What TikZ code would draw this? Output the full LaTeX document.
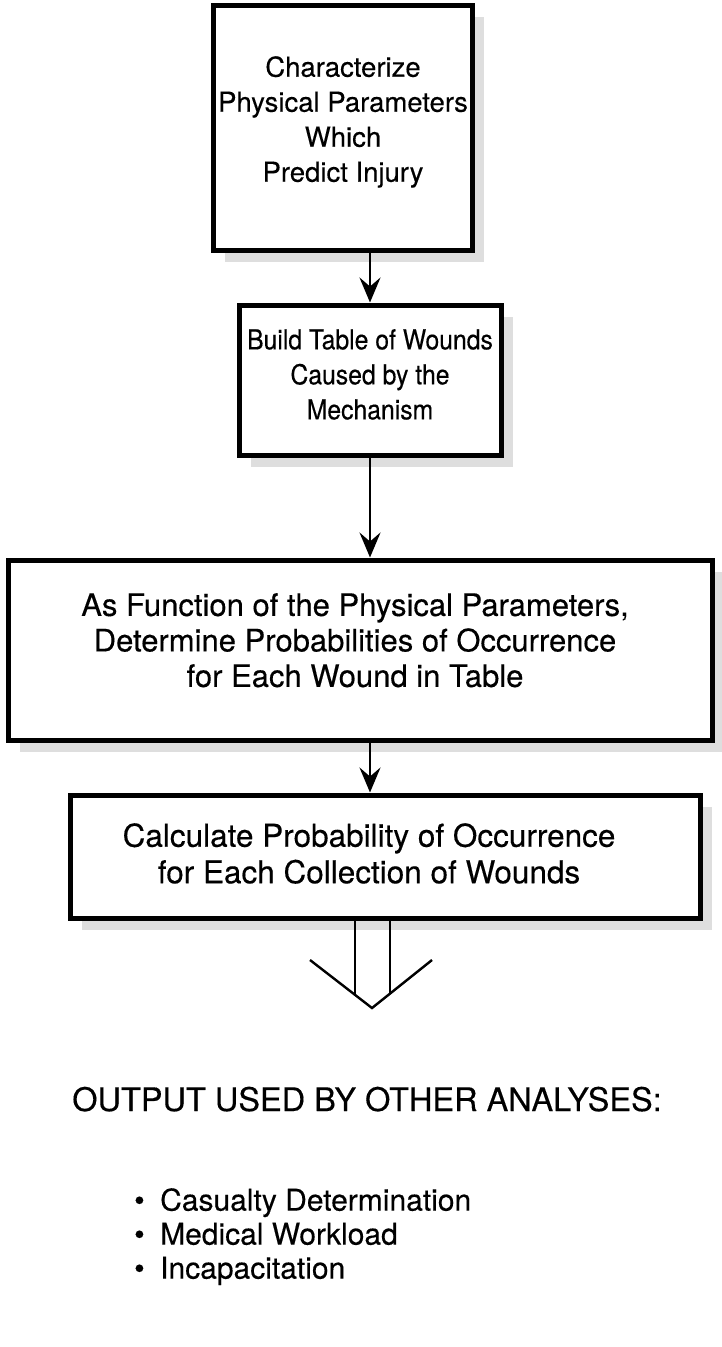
\documentclass[tikz,border=0pt]{standalone}
\usepackage{fontspec}
\setmainfont{TeX Gyre Heros}
\newfontfamily\fA[FakeBold=0.3]{TeX Gyre Heros}
\newfontfamily\fB[FakeBold=0.3,FakeStretch=0.9]{TeX Gyre Heros}
\usetikzlibrary{arrows.meta,shadows}
\begin{document}
\begin{tikzpicture}[x=1pt,y=-1pt,
  box/.style={draw, line width=5pt, fill=white, inner sep=0pt,
    general shadow={shadow xshift=12pt, shadow yshift=-12pt, fill=black!13}},
  txtA/.style={align=center, font=\fA\fontsize{27.5}{35}\selectfont, inner sep=0pt, anchor=north},
  txtA2/.style={align=center, font=\fB\fontsize{27.5}{35}\selectfont, inner sep=0pt, anchor=north},
  txtB/.style={align=center, font=\fA\fontsize{31}{35.5}\selectfont, inner sep=0pt, anchor=north},
  txtC/.style={align=center, font=\fA\fontsize{31.5}{36.5}\selectfont, inner sep=0pt, anchor=north},
  arr/.style={line width=2.6pt, -{Stealth[length=25pt,width=21pt,inset=9pt]}},
  hollow/.style={line width=2.4pt},
  plain/.style={font=\fA\fontsize{32.5}{34}\selectfont, inner sep=0pt},
  listtxt/.style={font=\fA\fontsize{30}{34}\selectfont, inner sep=0pt},
]
\useasboundingbox (0,0) rectangle (722,1347);
% boxes
\node[box, minimum width=259pt, minimum height=245pt] (b1) at (342.5,127.5) {};
\node[box, minimum width=262pt, minimum height=150pt] (b2) at (370,380) {};
\node[box, minimum width=704pt, minimum height=180pt] (b3) at (360,650) {};
\node[box, minimum width=630pt, minimum height=123pt] (b4) at (385,856.5) {};
% texts
\node[txtA] (t1) at (343,56) {Characterize\\Physical Parameters\\Which\\Predict Injury};
\node[txtA2] (t2) at (370,329) {Build Table of Wounds\\Caused by the\\Mechanism};
\node[txtB] (t3) at (355,593) {As Function of the Physical Parameters,\\Determine Probabilities of Occurrence\\for Each Wound in Table};
\node[txtC] (t4) at (369,823) {Calculate Probability of Occurrence\\for Each Collection of Wounds};
% arrows
\draw[arr] (b1.south -| 370,0) -- (b2.north -| 370,0);
\draw[arr] (b2.south -| 370,0) -- (b3.north -| 370,0);
\draw[arr] (b3.south -| 370,0) -- (b4.north -| 370,0);
% hollow arrow
\coordinate (hl) at (310,960);
\coordinate (tip) at (372,1008);
\coordinate (hr) at (432,960);
\coordinate (sl) at (355,995);
\coordinate (sr) at (390,993.6);
\draw[hollow] (b4.south -| sl) -- (sl);
\draw[hollow] (b4.south -| sr) -- (sr);
\draw[hollow] (hl) -- (tip) -- (hr);
% output text
\node[plain, anchor=base] (out) at (367,1111) {OUTPUT USED BY OTHER ANALYSES:};
\node[listtxt, anchor=north west, align=left] (list) at (134,1188)
  {\makebox[26pt][l]{\textbullet}Casualty Determination\\
   \makebox[26pt][l]{\textbullet}Medical Workload\\
   \makebox[26pt][l]{\textbullet}Incapacitation};
\end{tikzpicture}
\end{document}
